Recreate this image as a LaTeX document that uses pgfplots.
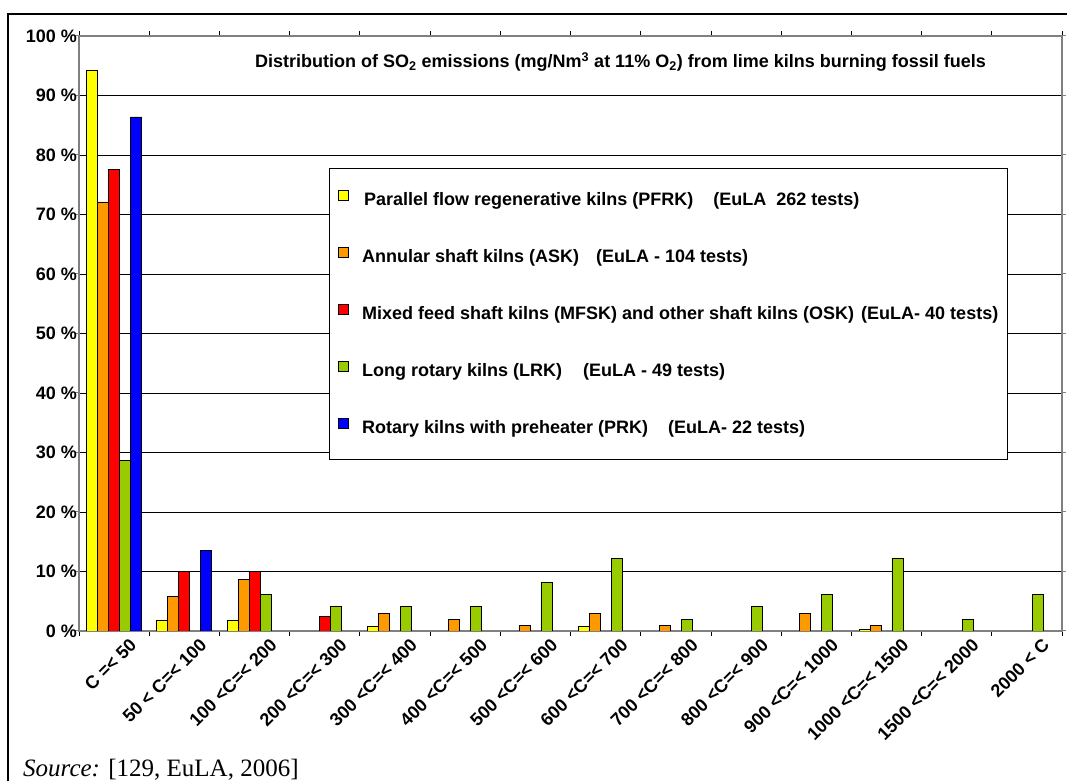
\documentclass[border=0pt]{standalone}
\usepackage{pgfplots}
\pgfplotsset{compat=1.18}
\usepackage{fontspec}
\setmainfont{Liberation Sans}
\newfontfamily\timesfont{Liberation Serif}
\definecolor{cyellow}{RGB}{255,255,0}
\definecolor{corange}{RGB}{255,153,0}
\definecolor{cred}{RGB}{255,0,0}
\definecolor{cgreen}{RGB}{153,204,0}
\definecolor{cblue}{RGB}{0,0,255}
\definecolor{bordergray}{RGB}{128,128,128}
\begin{document}
\begin{tikzpicture}[x=1pt,y=1pt]
\useasboundingbox (0,0) rectangle (1067,781);
\draw[line width=2.5pt] (8,0) -- (8,767) -- (1067,767);
\begin{axis}[
  at={(79pt,150pt)}, anchor=south west,
  scale only axis, width=983pt, height=595pt,
  xmin=-0.5, xmax=13.5, ymin=0, ymax=100,
  ybar=0pt, bar width=11pt,
  xtick={0,...,13},
  xticklabels={{C =< 50},{50 < C=< 100},{100 <C=< 200},{200 <C=< 300},{300 <C=< 400},{400 <C=< 500},{500 <C=< 600},{600 <C=< 700},{700 <C=< 800},{800 <C=< 900},{900 <C=< 1000},{1000 <C=< 1500},{1500 <C=< 2000},{2000 < C}},
  minor xtick={-0.5,0.5,...,13.5},
  ytick={0,10,...,100},
  yticklabels={{0 \%},{10 \%},{20 \%},{30 \%},{40 \%},{50 \%},{60 \%},{70 \%},{80 \%},{90 \%},{100 \%}},
  tick align=outside,
  major tick length=4pt, minor tick length=5pt,
  x tick style={draw=none},
  minor x tick style={draw=black, line width=0.8pt},
  y tick style={draw=bordergray, line width=1pt},
  every tick label/.append style={font=\fontsize{18}{20}\selectfont\bfseries},
  xticklabel style={rotate=45, anchor=north east, inner sep=0pt, xshift=8.7pt, yshift=-11.7pt},
  yticklabel style={anchor=east, inner sep=0pt, xshift=2pt},
  ymajorgrids, grid style={black, line width=0.9pt},
  axis line style={bordergray, line width=2pt},
  legend style={at={(0.2543,0.778)}, anchor=north west, draw=black, line width=0.8pt, fill=white,
    inner xsep=9pt, inner ysep=22pt, row sep=37.5pt, column sep=13pt,
    nodes={inner sep=0pt, text height=13pt, text depth=4pt, font=\fontsize{18}{20}\selectfont\bfseries}},
  legend cell align=left,
  legend image code/.code={\draw[#1,line width=0.8pt] (0pt,0.5pt) rectangle (10pt,10.5pt);},
  every axis plot/.append style={draw=black, line width=0.8pt},
]
\addplot[fill=cyellow] coordinates {(0,94.3) (1,1.7) (2,1.7) (4,0.76) (7,0.76) (11,0.25)};
\addlegendentry{\hspace{2pt}Parallel flow regenerative kilns (PFRK)\hspace{20pt}(EuLA\ \ 262 tests)}
\addplot[fill=corange] coordinates {(0,72.1) (1,5.8) (2,8.65) (4,2.9) (5,1.9) (6,0.96) (7,2.9) (8,0.96) (10,2.9) (11,0.96)};
\addlegendentry{Annular shaft kilns (ASK)\hspace{17pt}(EuLA - 104 tests)}
\addplot[fill=cred] coordinates {(0,77.5) (1,10) (2,10) (3,2.5)};
\addlegendentry{Mixed feed shaft kilns (MFSK) and other shaft kilns (OSK)\hspace{7pt}(EuLA- 40 tests)}
\addplot[fill=cgreen] coordinates {(0,28.6) (2,6.1) (3,4.1) (4,4.1) (5,4.1) (6,8.2) (7,12.2) (8,2.0) (9,4.1) (10,6.1) (11,12.2) (12,2.0) (13,6.1)};
\addlegendentry{Long rotary kilns (LRK)\hspace{21pt}(EuLA - 49 tests)}
\addplot[fill=cblue] coordinates {(0,86.4) (1,13.6)};
\addlegendentry{Rotary kilns with preheater (PRK)\hspace{20pt}(EuLA- 22 tests)}
\end{axis}
\node[anchor=base west, inner sep=0pt, font=\fontsize{18}{20}\selectfont\bfseries] at (255,713)
  {Distribution of SO\textsubscript{2} emissions (mg/Nm\textsuperscript{3} at 11\% O\textsubscript{2}) from lime kilns burning fossil fuels};
\node[anchor=base west, inner sep=0pt, font=\fontsize{25}{30}\timesfont] at (23,5)
  {\textit{Source:} [129, EuLA, 2006]};
\end{tikzpicture}
\end{document}
